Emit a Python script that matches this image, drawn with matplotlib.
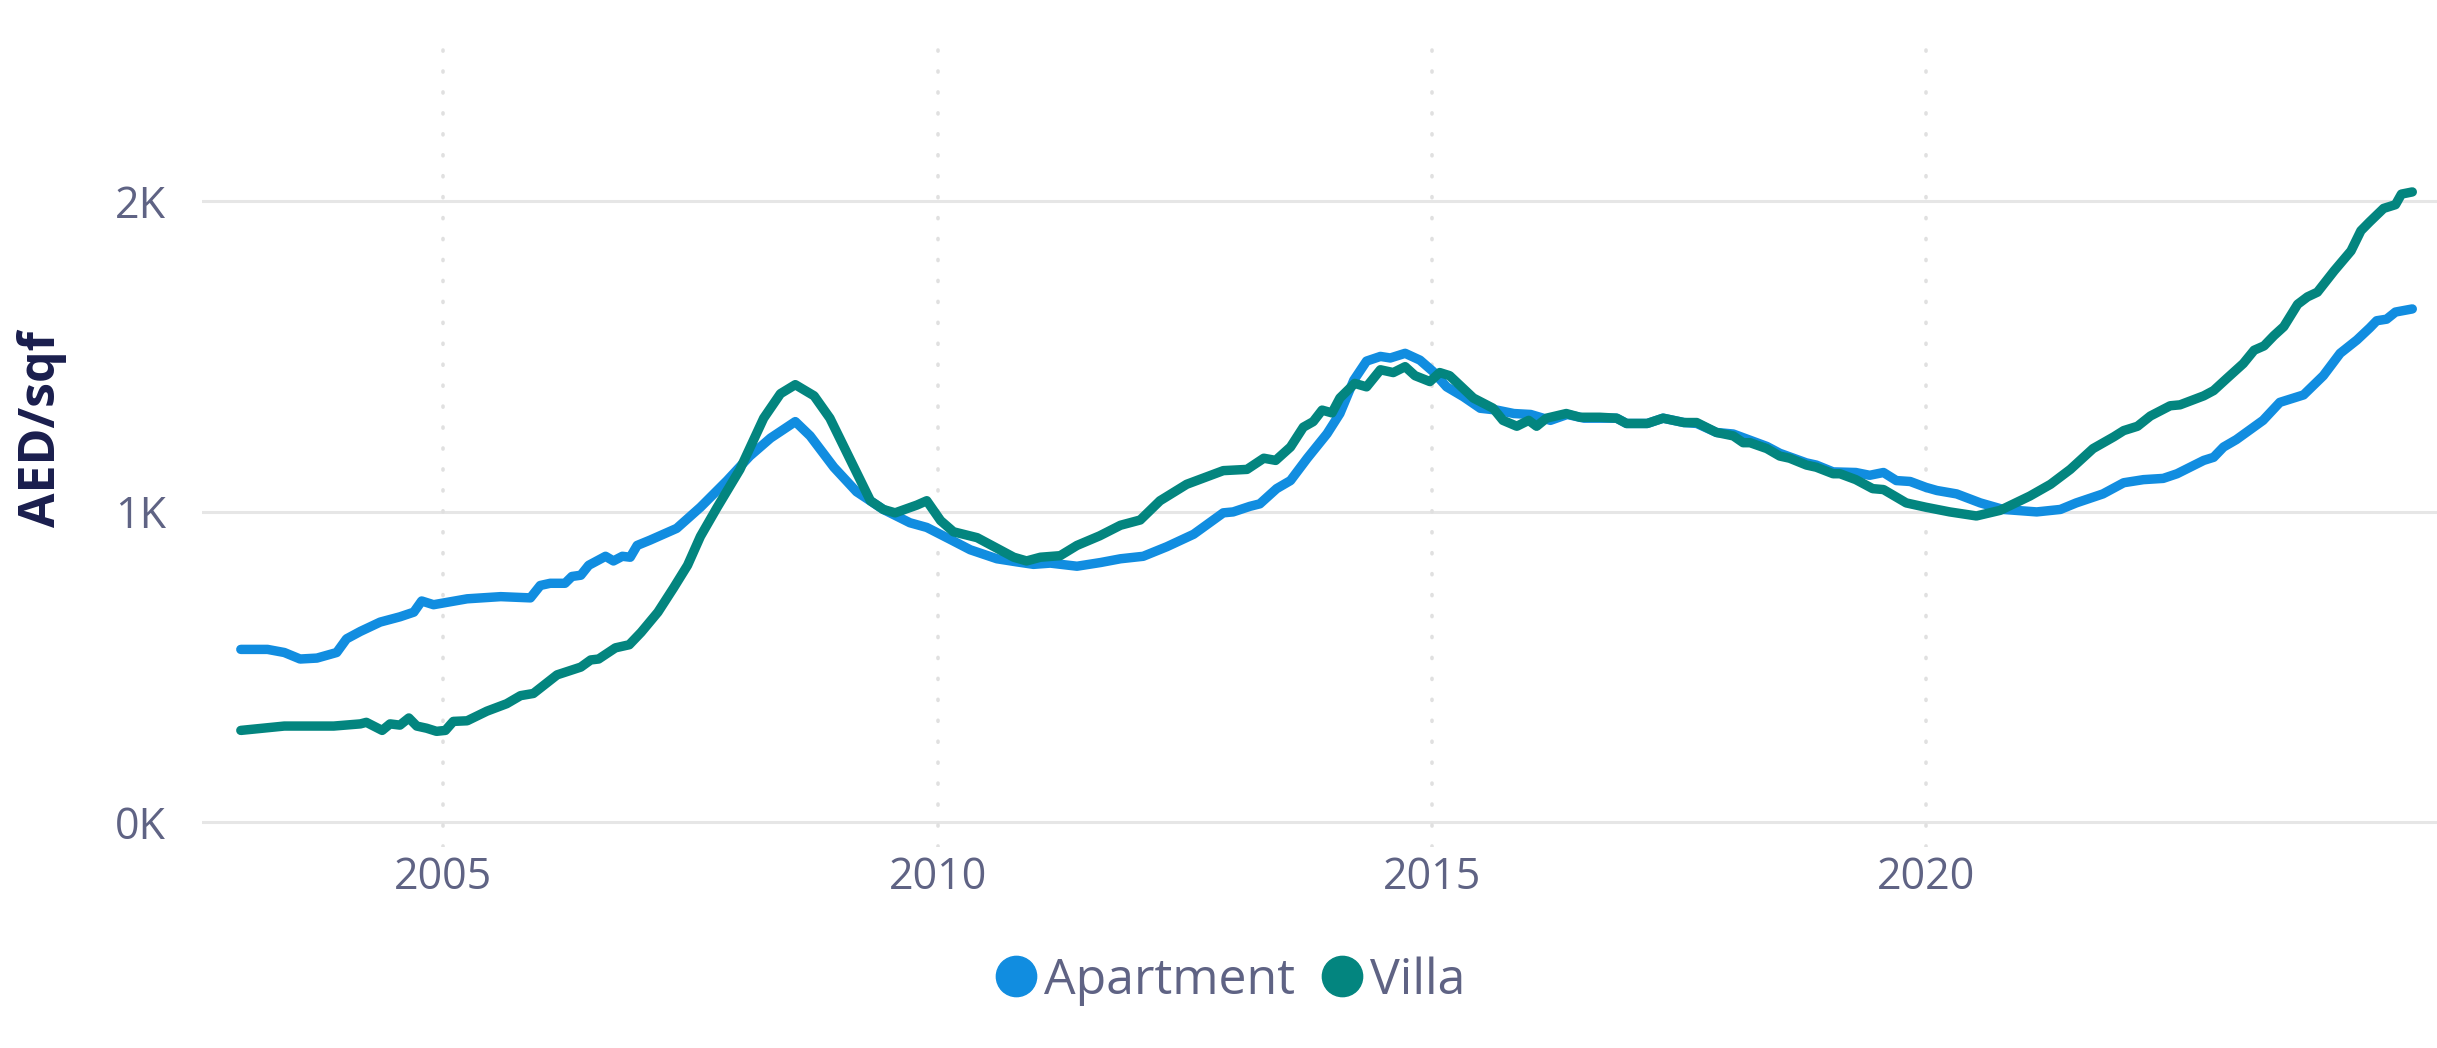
import matplotlib
matplotlib.use("Agg")
import matplotlib.pyplot as plt
from matplotlib.lines import Line2D
from matplotlib.ticker import FuncFormatter

# decimal years / AED per sqf
apt_years = [2002.95, 2003.22, 2003.39, 2003.55, 2003.72, 2003.92, 2004.02, 2004.16, 2004.36, 2004.56,
             2004.70, 2004.78, 2004.90, 2005.24, 2005.58, 2005.88, 2005.98, 2006.08, 2006.23, 2006.30,
             2006.39, 2006.47, 2006.64, 2006.72, 2006.81, 2006.89, 2006.96, 2007.09, 2007.36, 2007.60,
             2007.87, 2008.10, 2008.31, 2008.56, 2008.71, 2008.95, 2009.18, 2009.45, 2009.72, 2009.89,
             2010.13, 2010.33, 2010.60, 2010.80, 2010.97, 2011.14, 2011.41, 2011.65, 2011.85, 2012.08,
             2012.32, 2012.59, 2012.89, 2012.99, 2013.16, 2013.26, 2013.43, 2013.57, 2013.74, 2013.94,
             2014.07, 2014.21, 2014.34, 2014.48, 2014.58, 2014.73, 2014.88, 2015.01, 2015.15, 2015.32,
             2015.49, 2015.66, 2015.83, 2016.00, 2016.20, 2016.37, 2016.54, 2016.87, 2016.97, 2017.18,
             2017.34, 2017.55, 2017.68, 2017.88, 2018.05, 2018.22, 2018.39, 2018.52, 2018.79, 2018.89,
             2019.06, 2019.29, 2019.43, 2019.57, 2019.70, 2019.84, 2020.00, 2020.11, 2020.31, 2020.55,
             2020.78, 2021.12, 2021.36, 2021.52, 2021.79, 2022.00, 2022.20, 2022.40, 2022.54, 2022.81,
             2022.91, 2023.01, 2023.14, 2023.41, 2023.58, 2023.82, 2024.02, 2024.19, 2024.36, 2024.49,
             2024.56, 2024.66, 2024.75, 2024.92]
apt_values = [556, 556, 546, 525, 528, 546, 590, 614, 644, 661,
              676, 712, 700, 719, 726, 722, 762, 769, 769, 791,
              795, 827, 856, 841, 856, 853, 891, 908, 946, 1014,
              1100, 1179, 1237, 1290, 1244, 1143, 1064, 1007, 964, 949,
              910, 877, 848, 838, 830, 834, 824, 836, 848, 856,
              887, 927, 996, 999, 1017, 1025, 1074, 1100, 1172, 1251,
              1316, 1423, 1485, 1500, 1495, 1510, 1488, 1452, 1402, 1370,
              1333, 1327, 1316, 1313, 1294, 1313, 1301, 1301, 1284, 1284,
              1301, 1287, 1284, 1255, 1250, 1230, 1210, 1188, 1157, 1150,
              1128, 1126, 1117, 1126, 1100, 1097, 1078, 1068, 1057, 1028,
              1007, 999, 1007, 1028, 1057, 1093, 1103, 1107, 1122, 1165,
              1175, 1208, 1232, 1294, 1352, 1376, 1438, 1510, 1553, 1592,
              1615, 1620, 1643, 1653]

villa_years = [2002.95, 2003.39, 2003.89, 2004.16, 2004.22, 2004.38, 2004.46, 2004.56, 2004.65, 2004.73,
               2004.83, 2004.93, 2005.02, 2005.10, 2005.24, 2005.44, 2005.64, 2005.78, 2005.91, 2006.01,
               2006.15, 2006.39, 2006.49, 2006.57, 2006.74, 2006.88, 2007.00, 2007.17, 2007.33, 2007.47,
               2007.60, 2007.77, 2008.00, 2008.24, 2008.41, 2008.56, 2008.75, 2008.91, 2009.12, 2009.32,
               2009.45, 2009.57, 2009.79, 2009.89, 2010.03, 2010.16, 2010.40, 2010.57, 2010.77, 2010.90,
               2011.04, 2011.24, 2011.41, 2011.64, 2011.85, 2012.05, 2012.25, 2012.52, 2012.89, 2013.13,
               2013.30, 2013.42, 2013.57, 2013.70, 2013.80, 2013.89, 2013.99, 2014.07, 2014.22, 2014.34,
               2014.48, 2014.61, 2014.73, 2014.83, 2014.98, 2015.08, 2015.18, 2015.42, 2015.62, 2015.72,
               2015.86, 2015.98, 2016.06, 2016.16, 2016.36, 2016.50, 2016.70, 2016.87, 2016.97, 2017.18,
               2017.34, 2017.55, 2017.68, 2017.88, 2018.05, 2018.15, 2018.22, 2018.39, 2018.52, 2018.62,
               2018.79, 2018.89, 2019.06, 2019.13, 2019.29, 2019.46, 2019.57, 2019.80, 2020.00, 2020.24,
               2020.51, 2020.75, 2021.05, 2021.26, 2021.46, 2021.69, 2021.90, 2022.00, 2022.14, 2022.27,
               2022.47, 2022.57, 2022.81, 2022.91, 2023.04, 2023.21, 2023.32, 2023.42, 2023.52, 2023.62,
               2023.76, 2023.86, 2023.96, 2024.13, 2024.30, 2024.40, 2024.49, 2024.63, 2024.75, 2024.81,
               2024.92]
villa_values = [295, 309, 309, 316, 321, 295, 316, 312, 335, 309,
                302, 292, 295, 324, 326, 357, 381, 407, 414, 439,
                474, 499, 522, 525, 561, 571, 611, 676, 755, 827,
                920, 1014, 1136, 1301, 1380, 1409, 1373, 1301, 1165, 1035,
                1007, 996, 1021, 1035, 971, 935, 916, 887, 853, 841,
                853, 858, 891, 922, 956, 973, 1035, 1088, 1132, 1136,
                1172, 1165, 1208, 1272, 1290, 1327, 1318, 1366, 1413, 1402,
                1457, 1448, 1467, 1438, 1419, 1448, 1438, 1366, 1333, 1294,
                1275, 1294, 1275, 1301, 1316, 1304, 1304, 1301, 1284, 1284,
                1301, 1287, 1287, 1255, 1244, 1222, 1222, 1203, 1179, 1172,
                1150, 1143, 1122, 1122, 1103, 1074, 1071, 1028, 1014, 999,
                986, 1004, 1050, 1088, 1136, 1203, 1241, 1261, 1275, 1308,
                1341, 1344, 1373, 1390, 1428, 1477, 1520, 1534, 1567, 1596,
                1668, 1692, 1707, 1776, 1840, 1905, 1934, 1977, 1989, 2023,
                2030]

series_names = ["Apartment", "Villa"]
colors = ["#118DE0", "#03857F"]
x_ticks = [2005, 2010, 2015, 2020]
y_ticks = [0, 1000, 2000]

plt.rcParams['font.family'] = ['Open Sans', 'DejaVu Sans']
text_col = "#5F6384"

fig = plt.figure(figsize=(24.37, 10.48), dpi=100)
ax = fig.add_axes([0.083, 0.192, 0.917, 0.767])

ax.plot(apt_years, apt_values, color=colors[0], lw=6.8,
        solid_capstyle='round', solid_joinstyle='round')
ax.plot(villa_years, villa_values, color=colors[1], lw=6.8,
        solid_capstyle='round', solid_joinstyle='round')

ax.set_xlim(2002.56, 2025.17)
ax.set_ylim(-80, 2510)
ax.set_xticks(x_ticks)
ax.set_yticks(y_ticks)
ax.yaxis.set_major_formatter(FuncFormatter(lambda v, p: f"{v/1000:.0f}K"))

# grid: solid horizontal, dotted vertical
for y in y_ticks:
    ax.axhline(y, color="#E6E6E6", lw=2.2, zorder=0)
ax.grid(axis='x', color="#E0E0E0", lw=2.6, linestyle=(0, (0.3, 5.5)),
        dash_capstyle='round', zorder=0)
ax.set_axisbelow(True)

for s in ax.spines.values():
    s.set_visible(False)
ax.tick_params(length=0, labelsize=31, labelcolor=text_col)
ax.tick_params(axis='y', pad=26)
ax.tick_params(axis='x', pad=6)

ax.set_ylabel("AED/sqf", fontsize=36, fontweight='bold', color="#1A1E4D")
ax.yaxis.label.set_verticalalignment('center')
ax.yaxis.set_label_coords(-0.0715, 0.52)

handles = [Line2D([], [], ls='none', marker='o', markersize=29, color=c) for c in colors]
leg = fig.legend(handles, series_names, loc='center', bbox_to_anchor=(0.505, 0.064),
                 ncol=2, frameon=False, fontsize=36, handlelength=0.8, handletextpad=0.15,
                 columnspacing=0.55, borderaxespad=0)
for t in leg.get_texts():
    t.set_color(text_col)

fig.savefig("out.png", dpi=100, facecolor="white")
